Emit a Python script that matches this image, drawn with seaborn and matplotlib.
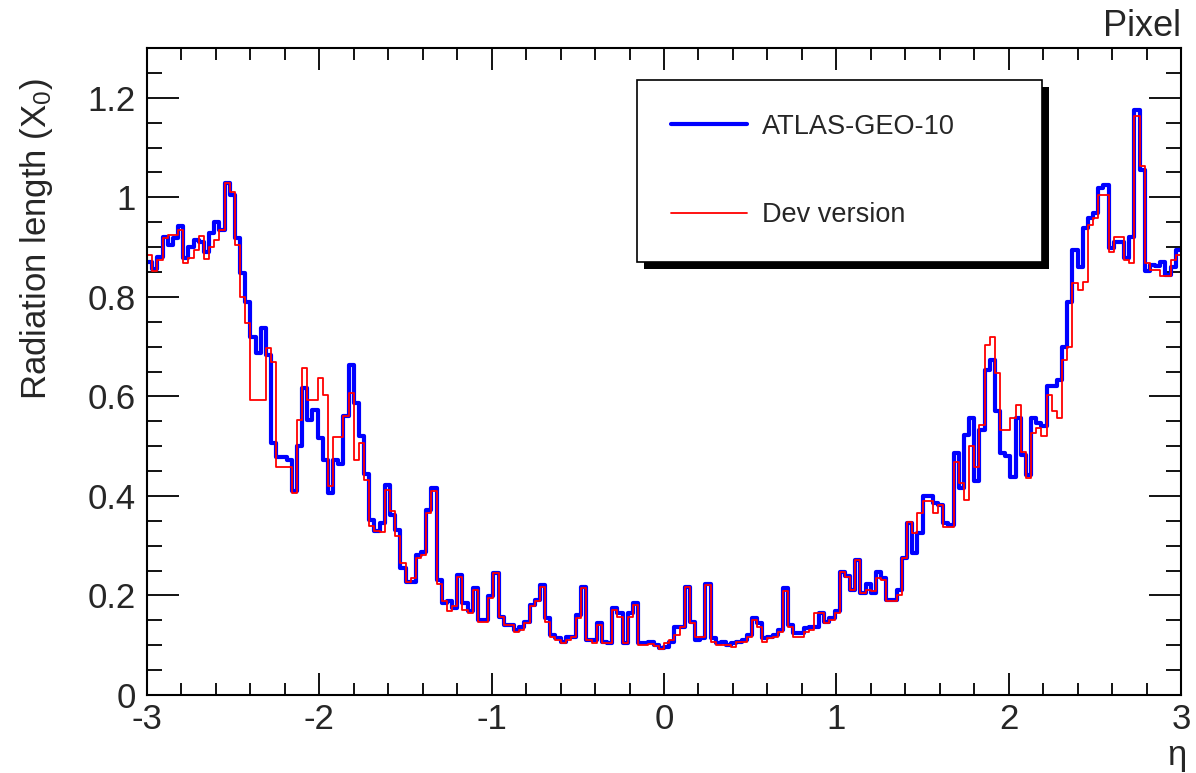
import numpy as np
import pandas as pd
import matplotlib
matplotlib.use('Agg')
import matplotlib.pyplot as plt
from matplotlib.lines import Line2D
from matplotlib.patches import Rectangle
from matplotlib.ticker import MultipleLocator, FuncFormatter
import seaborn as sns

sns.set_style('ticks')
plt.rcParams['font.family'] = ['Liberation Sans', 'DejaVu Sans']
plt.rcParams['mathtext.fontset'] = 'custom'
plt.rcParams['mathtext.rm'] = 'Liberation Sans'
plt.rcParams['mathtext.it'] = 'Liberation Sans:italic'
plt.rcParams['axes.unicode_minus'] = False

# 200 bins in eta from -3 to 3
n_bins = 200
eta_range = (-3, 3)

# radiation length per bin, ATLAS-GEO-10
geo10 = [
    0.870, 0.855, 0.881, 0.920, 0.905, 0.918, 0.943, 0.878, 0.901, 0.915,
    0.911, 0.891, 0.928, 0.951, 0.935, 1.028, 1.005, 0.918, 0.848, 0.790,
    0.720, 0.687, 0.737, 0.683, 0.506, 0.479, 0.479, 0.472, 0.409, 0.500,
    0.616, 0.553, 0.573, 0.516, 0.472, 0.405, 0.472, 0.465, 0.560, 0.663,
    0.586, 0.520, 0.445, 0.352, 0.330, 0.345, 0.422, 0.362, 0.332, 0.255,
    0.228, 0.228, 0.281, 0.288, 0.372, 0.415, 0.231, 0.184, 0.188, 0.174,
    0.241, 0.184, 0.168, 0.215, 0.151, 0.151, 0.198, 0.245, 0.157, 0.141,
    0.141, 0.131, 0.137, 0.147, 0.181, 0.191, 0.221, 0.154, 0.121, 0.114,
    0.107, 0.117, 0.117, 0.161, 0.218, 0.110, 0.110, 0.144, 0.107, 0.104,
    0.174, 0.164, 0.104, 0.164, 0.184, 0.104, 0.104, 0.106, 0.100, 0.095,
    0.097, 0.107, 0.137, 0.137, 0.218, 0.147, 0.111, 0.114, 0.224, 0.114,
    0.104, 0.107, 0.100, 0.104, 0.107, 0.110, 0.120, 0.154, 0.144, 0.114,
    0.117, 0.120, 0.130, 0.214, 0.141, 0.124, 0.124, 0.134, 0.137, 0.137,
    0.164, 0.147, 0.154, 0.168, 0.248, 0.240, 0.211, 0.271, 0.204, 0.224,
    0.204, 0.248, 0.235, 0.190, 0.190, 0.211, 0.275, 0.345, 0.285, 0.325,
    0.399, 0.399, 0.385, 0.382, 0.345, 0.342, 0.486, 0.416, 0.523, 0.556,
    0.430, 0.533, 0.653, 0.673, 0.570, 0.486, 0.480, 0.439, 0.556, 0.482,
    0.442, 0.556, 0.546, 0.540, 0.620, 0.620, 0.633, 0.700, 0.790, 0.894,
    0.860, 0.938, 0.958, 0.968, 1.018, 1.025, 0.898, 0.911, 0.911, 0.878,
    0.921, 1.176, 1.055, 0.851, 0.864, 0.861, 0.871, 0.844, 0.860, 0.894,
]

# radiation length per bin, Dev version
dev = [
    0.885, 0.851, 0.874, 0.918, 0.925, 0.925, 0.935, 0.868, 0.878, 0.895,
    0.922, 0.876, 0.901, 0.915, 0.935, 1.028, 1.010, 0.905, 0.800, 0.747,
    0.593, 0.593, 0.593, 0.697, 0.670, 0.459, 0.459, 0.459, 0.405, 0.553,
    0.657, 0.593, 0.593, 0.637, 0.603, 0.420, 0.519, 0.519, 0.560, 0.606,
    0.472, 0.506, 0.432, 0.340, 0.330, 0.328, 0.412, 0.369, 0.320, 0.265,
    0.228, 0.235, 0.275, 0.281, 0.365, 0.409, 0.224, 0.188, 0.168, 0.178,
    0.238, 0.171, 0.164, 0.211, 0.147, 0.147, 0.194, 0.245, 0.157, 0.141,
    0.141, 0.127, 0.131, 0.144, 0.178, 0.188, 0.218, 0.147, 0.117, 0.110,
    0.104, 0.110, 0.117, 0.154, 0.215, 0.110, 0.104, 0.141, 0.104, 0.104,
    0.171, 0.157, 0.104, 0.157, 0.181, 0.100, 0.100, 0.102, 0.098, 0.092,
    0.104, 0.110, 0.120, 0.137, 0.218, 0.144, 0.117, 0.117, 0.221, 0.107,
    0.100, 0.100, 0.100, 0.097, 0.107, 0.107, 0.117, 0.151, 0.137, 0.107,
    0.114, 0.117, 0.127, 0.208, 0.137, 0.117, 0.117, 0.127, 0.130, 0.164,
    0.164, 0.144, 0.151, 0.164, 0.248, 0.238, 0.211, 0.271, 0.204, 0.211,
    0.208, 0.235, 0.231, 0.188, 0.188, 0.200, 0.275, 0.348, 0.325, 0.365,
    0.389, 0.389, 0.365, 0.382, 0.338, 0.338, 0.469, 0.425, 0.392, 0.500,
    0.459, 0.543, 0.703, 0.720, 0.647, 0.533, 0.533, 0.556, 0.583, 0.489,
    0.436, 0.526, 0.536, 0.520, 0.603, 0.570, 0.556, 0.674, 0.700, 0.827,
    0.814, 0.830, 0.945, 0.958, 1.005, 1.005, 0.890, 0.921, 0.921, 0.874,
    0.868, 1.163, 1.062, 0.868, 0.854, 0.854, 0.841, 0.841, 0.874, 0.884,
]

labels = ['ATLAS-GEO-10', 'Dev version']
colors = ['#0000ff', '#ff0000']

# bin centres, used as the sample positions with the values as weights
edges = np.linspace(eta_range[0], eta_range[1], n_bins + 1)
df = pd.DataFrame({'eta': (edges[:-1] + edges[1:]) / 2, 'geo10': geo10, 'dev': dev})

W, H = 1196, 773
fig = plt.figure(figsize=(W / 100, H / 100), dpi=100)
ax = fig.add_axes([147 / W, 1 - 695 / H, (1181 - 147) / W, (695 - 48) / H])

sns.histplot(data=df, x='eta', weights='geo10', bins=n_bins, binrange=eta_range,
             element='step', fill=False, color=colors[0], linewidth=3, ax=ax)
sns.histplot(data=df, x='eta', weights='dev', bins=n_bins, binrange=eta_range,
             element='step', fill=False, color=colors[1], linewidth=1.3, ax=ax)

ax.set_xlim(-3, 3)
ax.set_ylim(0, 1.3)
ax.set_xlabel('')
ax.set_ylabel('')

ax.xaxis.set_major_locator(MultipleLocator(1))
ax.xaxis.set_minor_locator(MultipleLocator(0.2))
ax.yaxis.set_major_locator(MultipleLocator(0.2))
ax.yaxis.set_minor_locator(MultipleLocator(0.05))
fmt = FuncFormatter(lambda v, p: '%g' % round(v, 2))
ax.xaxis.set_major_formatter(fmt)
ax.yaxis.set_major_formatter(fmt)

ax.tick_params(which='both', direction='in', top=True, right=True, width=1.3,
               labelsize=25, color='black')
ax.tick_params(axis='x', which='major', length=16, pad=6)
ax.tick_params(axis='x', which='minor', length=8.5)
ax.tick_params(axis='y', which='major', length=23, pad=8)
ax.tick_params(axis='y', which='minor', length=11)
for s in ax.spines.values():
    s.set_linewidth(1.5)
    s.set_color('black')

# axis titles, ROOT style (placed at the axis ends)
fig.text(37 / W, 1 - 78 / H, 'Radiation length (X$_{0}$)', rotation=90,
         ha='center', va='top', fontsize=25)
fig.text(1177 / W, 1 - 756 / H, 'η', ha='center', va='center', fontsize=25)
fig.text(1181 / W, 1 - 27 / H, 'Pixel', ha='right', va='center', fontsize=26)

handles = [Line2D([], [], color=colors[0], lw=3),
           Line2D([], [], color=colors[1], lw=1.3)]
leg = ax.legend(handles, labels, loc='upper left',
                bbox_to_anchor=(637 / W, 1 - 80 / H, 405 / W, 0),
                bbox_transform=fig.transFigure, mode='expand', fontsize=19.5,
                frameon=True, fancybox=False, edgecolor='black', framealpha=1,
                borderpad=1.25, labelspacing=2.31, handlelength=2.8,
                handletextpad=0.55, borderaxespad=0)
leg.get_frame().set_linewidth(1.2)

# black drop shadow behind the legend box
fig.canvas.draw()
bb = leg.get_window_extent()
ax.add_patch(Rectangle(((bb.x0 + 7) / W, (bb.y0 - 7) / H), bb.width / W, bb.height / H,
                       transform=fig.transFigure, facecolor='black', edgecolor='none',
                       clip_on=False, zorder=4.9))

fig.savefig('out.png', dpi=100)
